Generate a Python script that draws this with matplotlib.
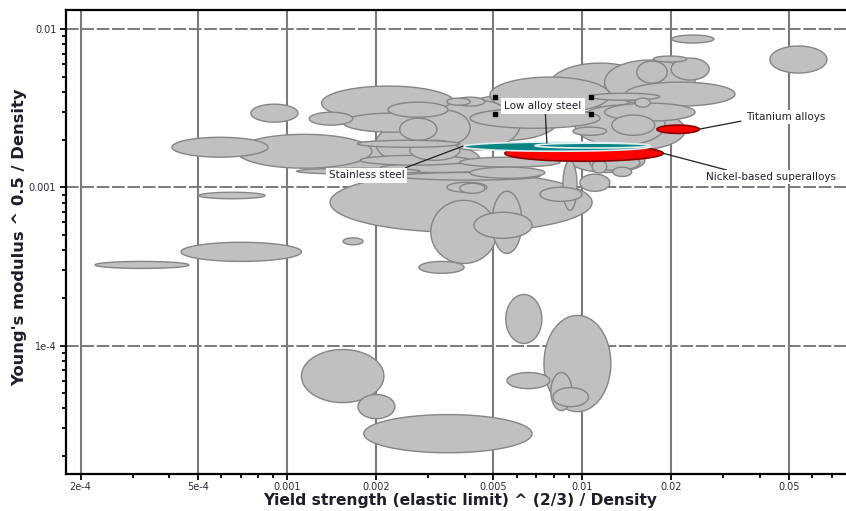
import numpy as np
import matplotlib
matplotlib.use("Agg")
import matplotlib.pyplot as plt
from matplotlib.ticker import FixedLocator, FixedFormatter, LogLocator, NullFormatter

# ---------------- data (property ranges, low/high) ----------------
# grey material families: yield-strength index range and modulus index range
gx_lo = [2.24e-4, 4.38e-4, 5.04e-4, 4.08e-4, 6.77e-4, 7.55e-4, 1.19e-3, 1.31e-3, 1.55e-3, 2.80e-3,
         1.40e-3, 3.07e-3, 4.30e-3, 4.95e-3, 8.60e-3, 7.19e-3, 9.82e-3, 1.08e-2, 1.27e-2, 5.51e-3,
         7.42e-3, 5.56e-3, 7.83e-3, 7.96e-3, 1.82e-3, 1.12e-3, 1.74e-3, 2.01e-2, 4.32e-2, 1.55e-3,
         2.20e-3, 2.41e-3, 2.61e-3, 1.08e-3, 1.73e-3, 3.48e-3, 3.48e-3, 4.87e-3, 7.77e-3, 1.19e-2,
         1.40e-2, 2.00e-2, 1.53e-2, 1.74e-2, 9.45e-3, 1.19e-2, 1.06e-2, 1.51e-2, 9.30e-3, 1.26e-2,
         3.71e-3, 4.17e-3, 3.71e-3, 1.77e-3, 2.07e-3, 2.41e-3, 3.85e-3, 4.17e-3, 3.85e-3, 1.06e-2,
         2.82e-3, 3.05e-3, 1.29e-3, 2.00e-3, 1.04e-2, 9.09e-3]
gx_hi = [4.66e-4, 1.12e-3, 8.43e-4, 8.63e-4, 1.94e-3, 1.09e-3, 1.67e-3, 3.71e-3, 1.81e-3, 3.98e-3,
         1.08e-2, 5.14e-3, 6.76e-3, 6.25e-3, 9.60e-3, 9.98e-3, 1.24e-2, 1.21e-2, 1.47e-2, 7.30e-3,
         1.25e-2, 7.77e-3, 9.23e-3, 1.05e-2, 6.76e-3, 2.13e-3, 2.32e-3, 2.79e-2, 6.74e-2, 3.25e-3,
         3.51e-3, 3.22e-3, 3.85e-3, 2.82e-3, 3.85e-3, 4.76e-3, 4.17e-3, 1.24e-2, 1.70e-2, 2.41e-2,
         3.29e-2, 2.69e-2, 1.94e-2, 2.26e-2, 1.91e-2, 2.41e-2, 1.83e-2, 1.70e-2, 1.21e-2, 1.76e-2,
         8.41e-3, 1.15e-2, 4.68e-3, 4.17e-3, 5.26e-3, 7.19e-3, 8.41e-3, 7.47e-3, 4.68e-3, 1.57e-2,
         4.17e-3, 6.15e-3, 4.50e-3, 3.20e-3, 2.23e-2, 1.63e-2]
gy_lo = [3.07e-4, 3.40e-4, 8.46e-4, 1.55e-3, 1.32e-3, 2.58e-3, 2.47e-3, 2.65e-3, 4.33e-4, 2.86e-4,
         5.19e-4, 3.30e-4, 4.76e-4, 3.82e-4, 7.15e-4, 8.15e-4, 9.43e-4, 1.23e-3, 1.17e-3, 1.03e-4,
         3.82e-5, 5.34e-5, 3.88e-5, 4.11e-5, 2.10e-5, 4.36e-5, 3.45e-5, 8.16e-3, 5.27e-3, 2.23e-3,
         2.77e-3, 1.98e-3, 1.48e-3, 1.21e-3, 1.79e-3, 9.30e-4, 3.30e-3, 2.94e-3, 3.21e-3, 3.35e-3,
         3.26e-3, 4.76e-3, 4.55e-3, 6.18e-3, 1.84e-3, 2.62e-3, 3.55e-3, 3.21e-3, 2.13e-3, 2.13e-3,
         1.98e-3, 2.36e-3, 3.26e-3, 1.38e-3, 1.24e-3, 1.11e-3, 1.34e-3, 1.14e-3, 9.16e-4, 1.28e-3,
         1.84e-3, 1.72e-3, 1.14e-3, 1.45e-3, 1.72e-3, 1.24e-3]
gy_hi = [3.40e-4, 4.49e-4, 9.30e-4, 2.07e-3, 2.16e-3, 3.35e-3, 2.98e-3, 4.36e-3, 4.79e-4, 3.40e-4,
         1.24e-3, 8.27e-4, 6.95e-4, 9.43e-4, 1.48e-3, 1.00e-3, 1.21e-3, 1.48e-3, 1.34e-3, 2.10e-4,
         1.55e-4, 6.75e-5, 6.75e-5, 5.42e-5, 3.66e-5, 9.43e-5, 4.90e-5, 9.16e-3, 7.81e-3, 2.94e-3,
         3.45e-3, 2.73e-3, 1.98e-3, 1.32e-3, 1.98e-3, 1.075e-3, 3.66e-3, 4.97e-3, 6.09e-3, 6.37e-3,
         4.62e-3, 6.55e-3, 6.27e-3, 6.75e-3, 3.30e-3, 3.40e-3, 3.93e-3, 3.66e-3, 2.40e-3, 2.86e-3,
         3.82e-3, 3.16e-3, 3.71e-3, 1.59e-3, 1.42e-3, 1.24e-3, 1.55e-3, 1.34e-3, 1.06e-3, 1.59e-3,
         3.07e-3, 3.55e-3, 1.98e-3, 2.47e-3, 3.07e-3, 1.765e-3]

# highlighted materials
hl_names = ["Nickel-based superalloys", "Stainless steel", "Low alloy steel", "Titanium alloys"]
hl_x_lo = [5.47e-3, 3.95e-3, 6.92e-3, 1.79e-2]
hl_x_hi = [1.88e-2, 1.70e-2, 1.70e-2, 2.49e-2]
hl_y_lo = [1.46e-3, 1.69e-3, 1.77e-3, 2.19e-3]
hl_y_hi = [1.84e-3, 1.93e-3, 1.90e-3, 2.47e-3]
hl_face = ["#ff0000", "#0b8484", "#0b8484", "#ff0000"]
hl_edge = ["#8a0000", "#dff0f0", "#dff0f0", "#8a0000"]

x_ticks = [2e-4, 5e-4, 1e-3, 2e-3, 5e-3, 1e-2, 2e-2, 5e-2]
x_tick_labels = ["2e-4", "5e-4", "0.001", "0.002", "0.005", "0.01", "0.02", "0.05"]
y_ticks = [1e-4, 1e-3, 1e-2]
y_tick_labels = ["1e-4", "0.001", "0.01"]

# ---------------- figure ----------------
W, H = 846, 511
fig = plt.figure(figsize=(W / 100, H / 100), dpi=100)
ax = fig.add_axes([66 / W, 37 / H, 780 / W, 464 / H])
ax.set_xscale("log")
ax.set_yscale("log")
ax.set_xlim(1.786e-4, 0.0782)
ax.set_ylim(1.542e-5, 0.01319)

t = np.linspace(0, 2 * np.pi, 240)


def ellipse(x0, x1, y0, y1, fc, ec, lw, z):
    cx = (np.log10(x0) + np.log10(x1)) / 2
    cy = (np.log10(y0) + np.log10(y1)) / 2
    a = (np.log10(x1) - np.log10(x0)) / 2
    b = (np.log10(y1) - np.log10(y0)) / 2
    xs = 10 ** (cx + a * np.cos(t))
    ys = 10 ** (cy + b * np.sin(t))
    ax.fill(xs, ys, facecolor=fc, edgecolor=ec, linewidth=lw, zorder=z)


# larger bubbles drawn first so that smaller ones sit on top
areas = [np.log10(h / l) * np.log10(yh / yl) for l, h, yl, yh in zip(gx_lo, gx_hi, gy_lo, gy_hi)]
order = np.argsort(areas)[::-1]
for k, i in enumerate(order):
    ellipse(gx_lo[i], gx_hi[i], gy_lo[i], gy_hi[i], "#c0c0c0", "#858585", 1.0, 2 + k * 0.001)

for i in range(len(hl_names)):
    ellipse(hl_x_lo[i], hl_x_hi[i], hl_y_lo[i], hl_y_hi[i], hl_face[i], hl_edge[i], 1.2, 3 + i * 0.01)

# ---------------- grid / axes ----------------
for xv in x_ticks:
    ax.axvline(xv, color="#7a7a7a", lw=1.5, zorder=1)
for yv in y_ticks:
    ax.axhline(yv, color="#7a7a7a", lw=1.4, ls=(0, (6.5, 1.4)), zorder=1)

ax.xaxis.set_major_locator(FixedLocator(x_ticks))
ax.xaxis.set_major_formatter(FixedFormatter(x_tick_labels))
ax.xaxis.set_minor_locator(LogLocator(base=10, subs=np.arange(2, 10), numticks=50))
ax.xaxis.set_minor_formatter(NullFormatter())
ax.yaxis.set_major_locator(FixedLocator(y_ticks))
ax.yaxis.set_major_formatter(FixedFormatter(y_tick_labels))
ax.yaxis.set_minor_locator(LogLocator(base=10, subs=np.arange(2, 10), numticks=50))
ax.yaxis.set_minor_formatter(NullFormatter())

ax.tick_params(which="major", direction="out", length=4, width=1.3, labelsize=7,
               labelcolor="#2a2a3a", color="black", pad=3)
ax.tick_params(axis="x", which="major", pad=1.5)
ax.tick_params(which="minor", direction="out", length=3, width=1.3, color="black")

for s in ["left", "bottom", "top"]:
    ax.spines[s].set_linewidth(1.6)
    ax.spines[s].set_color("black")
ax.spines["right"].set_visible(False)

ax.set_xlabel("Yield strength (elastic limit) ^ (2/3) / Density", fontsize=11.2,
              fontweight="bold", color="#1e1e2a")
ax.set_ylabel("Young's modulus ^ 0.5 / Density", fontsize=11.8, fontweight="bold",
              color="#1e1e2a")
ax.xaxis.set_label_coords(0.505, -0.042)
ax.yaxis.set_label_coords(-0.05, 0.51)

# ---------------- annotations ----------------
lab_font = dict(fontsize=7.5, color="#1e1e2a")
ax.annotate("Stainless steel", xy=(3.95e-3, 1.82e-3), xytext=(1.866e-3, 1.19e-3),
            ha="center", va="center", zorder=10,
            bbox=dict(boxstyle="square,pad=0.25", fc="white", ec="none"),
            arrowprops=dict(arrowstyle="-", color="#202020", lw=0.9, relpos=(0.92, 1.0),
                            shrinkA=0, shrinkB=0), **lab_font)
ax.annotate("Low alloy steel", xy=(7.59e-3, 1.90e-3), xytext=(7.36e-3, 3.28e-3),
            ha="center", va="center", zorder=10,
            bbox=dict(boxstyle="square,pad=0.3", fc="white", ec="none"),
            arrowprops=dict(arrowstyle="-", color="#202020", lw=0.9, relpos=(0.53, 0.0),
                            shrinkA=0, shrinkB=0), **lab_font)
# selection handles at the corners of the "Low alloy steel" box
ax.plot([5.06e-3, 1.07e-2, 5.06e-3, 1.07e-2], [3.71e-3, 3.71e-3, 2.90e-3, 2.90e-3],
        ls="none", marker="s", ms=3, color="black", zorder=11)
ax.annotate("Titanium alloys", xy=(2.49e-2, 2.33e-3), xytext=(3.58e-2, 2.77e-3),
            ha="left", va="center", zorder=10,
            bbox=dict(boxstyle="square,pad=0.2", fc="white", ec="none"),
            arrowprops=dict(arrowstyle="-", color="#202020", lw=0.9, relpos=(0.0, 0.2),
                            shrinkA=2, shrinkB=0), **lab_font)
ax.annotate("Nickel-based superalloys", xy=(1.88e-2, 1.64e-3), xytext=(2.62e-2, 1.16e-3),
            ha="left", va="center", zorder=10,
            bbox=dict(boxstyle="square,pad=0.2", fc="white", ec="none"),
            arrowprops=dict(arrowstyle="-", color="#202020", lw=0.9, relpos=(0.22, 1.0),
                            shrinkA=0, shrinkB=0), **lab_font)

fig.savefig("out.png", dpi=100)
